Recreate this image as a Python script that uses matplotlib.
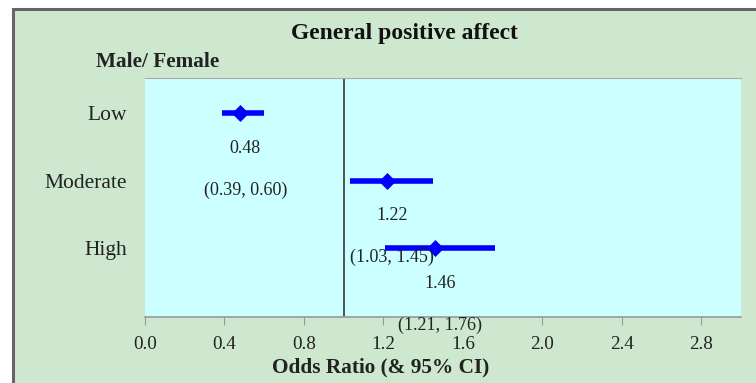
import matplotlib

matplotlib.use('Agg')
import matplotlib.pyplot as plt
from matplotlib.patches import Rectangle

plt.rcParams['font.family'] = ['Liberation Serif', 'DejaVu Serif']

categories = ['Low', 'Moderate', 'High']
odds = [0.48, 1.22, 1.46]
ci_low = [0.39, 1.03, 1.21]
ci_high = [0.60, 1.45, 1.76]
xticks = [0.0, 0.4, 0.8, 1.2, 1.6, 2.0, 2.4, 2.8]

GREEN = '#cde8cf'
CYAN = '#ccffff'
BLUE = '#0000ff'
INK = '#222222'

W, H = 756, 383
fig = plt.figure(figsize=(W / 100, H / 100), dpi=100, facecolor='white')

# outer frame (left and top edges visible, rest runs off the image)
fig.patches.append(Rectangle((13 / W, -0.2), 1.2, 1.2 - 9 / H,
                             transform=fig.transFigure, facecolor=GREEN,
                             edgecolor='#666666', linewidth=2.2, zorder=-10))

ax = fig.add_axes([145 / W, 1 - 317 / H, (741 - 145) / W, (317 - 78) / H])
ax.set_facecolor(CYAN)

ys = list(range(1, len(categories) + 1))
for y, o, lo, hi in zip(ys, odds, ci_low, ci_high):
    ax.plot([lo, hi], [y, y], color=BLUE, lw=4, solid_capstyle='butt', zorder=3)
    ax.plot(o, y, marker='D', ms=7.8, color=BLUE, mec=BLUE, mew=0.5, zorder=4)
    ax.annotate(f'{o:.2f}', (o, y), xytext=(5, -35), textcoords='offset pixels',
                ha='center', va='center', fontsize=13, color=INK, zorder=5,
                annotation_clip=False)
    ax.annotate(f'({lo:.2f}, {hi:.2f})', (o, y), xytext=(5, -77),
                textcoords='offset pixels', ha='center', va='center',
                fontsize=13, color=INK, zorder=5, annotation_clip=False)

ax.axvline(1.0, color='#444444', lw=1.3, zorder=2)

ax.set_xlim(0, 3.0)
ax.set_ylim(4.02, 0.48)
ax.set_xticks(xticks)
ax.set_xticklabels([f'{t:.1f}' for t in xticks], fontsize=13.8, color=INK)
ax.set_yticks(ys)
ax.set_yticklabels(categories, fontsize=15.5, color=INK)
ax.tick_params(axis='y', length=0, pad=13)
ax.tick_params(axis='x', direction='out', length=6, color='#999999', pad=8)
for s in ['left', 'right']:
    ax.spines[s].set_visible(False)
ax.spines['top'].set_color('#aaaaaa')
ax.spines['top'].set_linewidth(0.8)
ax.spines['bottom'].set_color('#999999')
ax.spines['bottom'].set_linewidth(1.2)

fig.text(404 / W, 1 - 34 / H, 'General positive affect', ha='center',
         va='center', fontsize=17, fontweight='bold', color='#111111')
fig.text(158 / W, 1 - 62 / H, 'Male/ Female', ha='center', va='center',
         fontsize=15.3, fontweight='bold', color=INK)
fig.text(381 / W, 1 - 367 / H, 'Odds Ratio (& 95% CI)', ha='center',
         va='center', fontsize=15.3, fontweight='bold', color=INK)

fig.savefig('out.png', dpi=100, facecolor='white')
